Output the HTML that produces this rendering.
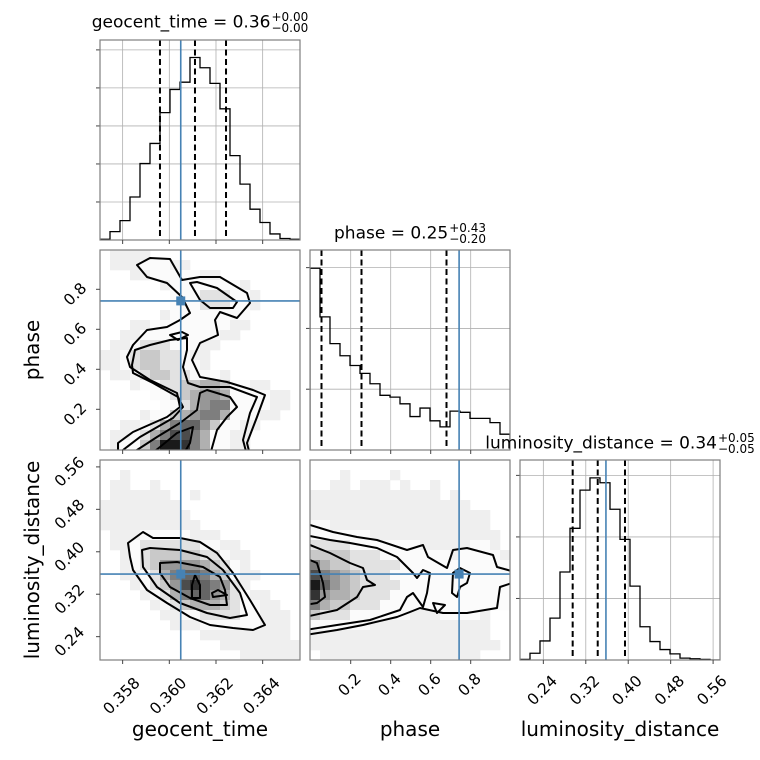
<!DOCTYPE html>
<html><head><meta charset="utf-8">
<style>
html,body{margin:0;padding:0;background:#fff;}
#wrap{position:relative;width:760px;height:760px;overflow:hidden;font-family:"DejaVu Sans","Liberation Sans",sans-serif;}
svg{position:absolute;left:0;top:0;}
.title{position:absolute;font-size:17px;white-space:nowrap;color:#000;transform:translateX(-50%);}
.ss{display:inline-block;vertical-align:-4px;font-size:12px;line-height:10.5px;margin-left:1px;}
.ss span{display:block;}
</style></head>
<body>
<div id="wrap">
<svg id="chart" width="760" height="760"></svg>
<div class="title" style="left:200px;top:12px;">geocent_time = 0.36<span class="ss"><span>+0.00</span><span>−0.00</span></span></div>
<div class="title" style="left:410px;top:223px;">phase = 0.25<span class="ss"><span>+0.43</span><span>−0.20</span></span></div>
<div class="title" style="left:620px;top:433px;">luminosity_distance = 0.34<span class="ss"><span>+0.05</span><span>−0.05</span></span></div>
</div>
<script>
// ---------- data ----------
const geoRange = [0.35703, 0.36560];
const phaseRange = [-0.0035, 0.9965];
const lumRange = [0.196, 0.573];
const geoCounts = [2,22,51,113,201,254,335,396,415,480,453,412,345,222,147,81,46,16,4,2];
const phaseCounts = [299,219,175,155,139,126,109,90,87,76,55,69,48,38,64,62,52,52,45,26];
const lumCounts = [1,11,31,68,143,214,276,296,288,245,196,120,54,30,17,10,3,2,1,0];
const geoHistMax = 526, phaseHistMax = 329, lumHistMax = 325;
const geoHistTicks = [100,200,300,400,500];
const phaseHistTicks = [100,200,300];
const lumHistTicks = [100,200,300];
const geoTicks = [0.358,0.360,0.362,0.364];
const geoTickLabels = ["0.358","0.360","0.362","0.364"];
const phaseTicks = [0.2,0.4,0.6,0.8];
const phaseTickLabels = ["0.2","0.4","0.6","0.8"];
const lumTicks = [0.24,0.32,0.40,0.48,0.56];
const lumTickLabels = ["0.24","0.32","0.40","0.48","0.56"];
const geoQuantiles = [0.35960,0.36110,0.36243];
const phaseQuantiles = [0.054,0.254,0.679];
const lumQuantiles = [0.2953,0.3425,0.3939];
const geoTruth = 0.36049, phaseTruth = 0.742, lumTruth = 0.358;
// 2D density grids (20x20 bins, top row = highest y value). '.' none, 'c' scatter, digits = density level
const gridGeoPhase = [
".cccc...............",
".ccc000cc...........",
"...cc00000cc........",
"......c0000000c.....",
".......00011100c....",
".......00011100c....",
"......c00000000.....",
"...cc00000000cc.....",
"..cc00000000cc......",
".cc0111000cc........",
"cc0122110cc.........",
"cc01221100c.........",
".cc012211000c.......",
"...c00112233200cc...",
".....001234430000cc.",
"......00134550000cc.",
"....c00234553000cc..",
"..cc0135664200cc....",
".cc0135775300cc.....",
".c00259985300cc....."];
const gridGeoLum = [
"....................",
"..c.................",
".cc..c..............",
".cccccc..c..........",
"cccccccc............",
"ccccccccc...........",
"cccccccccc..........",
".ccc00000ccc........",
".cc011111100cc......",
"..c0122222110cc.....",
"..c01244443210c.....",
"..cc0135665320cc....",
"...c0124786541c.....",
"....c0135664310cc...",
".....c0123332100cc..",
"......cc00111100ccc.",
".......ccc000000ccc.",
"..........ccccccccc.",
"............cccccccc",
"..............cccccc"];
const gridPhaseLum = [
"....................",
"...c....c...........",
"..cc.ccc.c..c.......",
"ccccccccccccc.c.....",
"cccccccccccccccc....",
"cccccccccccccccccc..",
"00cccccccccccccccc..",
"000000ccccccccccccc.",
"11110000000ccccc00c.",
"22221110000000c0000c",
"53221111100000000000",
"75432111000000000000",
"96432111100000000000",
"84332111000000000000",
"53221110000000000000",
"2111000000ccc0000c..",
"000000cccccccccccc..",
"cccccccccccccccccc..",
"ccccccccccccccccccc.",
".cccccccccccccccc..."];
// contours in bin units (x bin, y bin from top)
const contoursGeoPhase = [
[[3.7,1.5],[5,0.8],[7,0.9],[8.2,3],[10,2.7],[12,2.7],[14.7,4.3],[15,5.3],[13.7,6.8],[12,6.2],[11.5,7],[11.8,8.5],[10,9.3],[9.2,11],[10,12.7],[12.7,13.2],[15.3,14],[16.5,14.5],[15.7,16.7],[14.7,19.3],[15,20.5],[1.8,20.5],[1.8,19.3],[3.3,18.2],[6.7,16.7],[8,15.7],[7.7,14.3],[5,13],[3,11.7],[2.7,10.7],[3.3,9.5],[4.7,8],[6.7,7.7],[8,7],[9,6.3],[8.2,4.7],[6.7,3.3],[4.7,2.7]],
[[9,3.3],[9.7,3.2],[11.7,3.8],[13.7,5.2],[13.3,5.8],[11,5.8],[10,5]],
[[7,8.5],[8.2,8.2],[8.8,8.5],[7.8,9]],
[[3.2,11.5],[3.5,10],[5,9.5],[7,9],[8.7,8.8],[8.7,10],[8.3,11.7],[8.8,13.3],[10,13.7],[13,13.7],[15.7,14.7],[15,16.3],[14.3,19],[14.7,20.5],[2.3,20.5],[2.3,20],[4,18.7],[7.3,16.8],[8.3,15.7],[7.8,14.7],[5.3,13.3],[3.3,12.3]],
[[10,14.3],[10.7,14],[13,14.7],[13.7,15.7],[12.7,16.7],[11.7,18],[11,20.5],[3.7,20.5],[3.7,20],[5.7,18.7],[8,17.3],[9.7,16]],
[[5,20.5],[6,19.7],[7.7,18.3],[9.3,17.7],[9,19.3],[8.3,20.5]]];
const contoursGeoLum = [
[[2.8,8.3],[4.3,7.2],[5.3,7.8],[8,7.8],[10,8.2],[11.7,9.3],[13.3,11.3],[15,14],[16.5,16.5],[15.3,17],[13.3,16.8],[11,16.5],[9,15.7],[6.7,14.3],[4.7,13],[3.3,11],[3,9.7]],
[[4.2,9],[5,8.8],[8,9],[10.7,9.7],[12.3,11],[14,13.3],[14.7,15.5],[13,15.8],[10.7,15.3],[8,14.3],[5.7,12.7],[4.3,10.7]],
[[6,10.3],[7.7,10.2],[10.3,10.7],[12,11.7],[12.5,13],[12.7,14.5],[11,14.5],[9,13.8],[7,12.7],[6,11.3]],
[[9.2,12.5],[9.5,11.5],[10,12.5],[10,13.8],[9.2,13.8]],
[[11.2,13.3],[11.8,13],[12.7,13.5],[11.3,13.7]]];
const contoursPhaseLum = [
[[-0.5,6.5],[0,6.5],[2.3,7.2],[4.7,7.7],[6.7,8],[9.7,9],[11.3,8.5],[11.8,9.7],[13.7,10.8],[14.3,9],[15.7,8.8],[18.3,9.5],[18.7,10.7],[20.5,11.2],[20.5,12.2],[19,12.7],[18.7,14.8],[15.7,15.3],[13.3,15.3],[11,14.8],[10,15.2],[8.7,15.7],[5.3,16.5],[2.7,17],[-0.5,17.5]],
[[-0.5,7.5],[2,8],[4,8.3],[6.7,8.8],[8.7,9.7],[10.3,11.3],[10.7,11.8],[11.3,11],[12,11.3],[11.7,13.3],[11.3,14.7],[10.3,13.3],[9.7,13.7],[9,15],[6,16],[2.7,16.5],[-0.5,17]],
[[-0.5,8.3],[2,9.3],[4,10.3],[5.3,10.8],[5.7,12],[6.5,12.5],[5.3,12.7],[4.7,13.7],[2.7,15],[-0.5,15.7]],
[[-0.5,9.8],[0.7,10.3],[1.3,12.3],[1.5,13.7],[0.7,14.3],[-0.5,14.5]],
[[14.3,11.3],[15,10.8],[16,11.3],[15.7,12.3],[15,12.7],[14.7,13.7],[14.2,13.3]],
[[12.3,14.3],[13.5,14.5],[12.7,15.3]]];

// ---------- drawing ----------
const NS = "http://www.w3.org/2000/svg";
const svg = document.getElementById("chart");
const P = 200, X0 = [100,310,520], Y0 = [40,250,460];
const BLUE = "#4682b4";
function mk(tag, attrs, parent){ const e=document.createElementNS(NS,tag); for(const k in attrs) e.setAttribute(k,attrs[k]); (parent||svg).appendChild(e); return e; }
function scale(range, p0, p1){ return v => p0 + (v-range[0])/(range[1]-range[0])*(p1-p0); }
const ranges = [geoRange, phaseRange, lumRange];
const xS = c => scale(ranges[c], X0[c], X0[c]+P);
const yS = r => scale(ranges[r], Y0[r]+P, Y0[r]);
const defs = mk("defs",{});
let clipId = 0;
function clip(x,y){ const id="clip"+(clipId++); const cp=mk("clipPath",{id:id},defs); mk("rect",{x:x,y:y,width:P,height:P},cp); return id; }
function frame(x,y,name){
  const f = mk("rect",{x:x,y:y,width:P,height:P,fill:"none",stroke:"#7f7f7f","stroke-width":1.2});
  
  
}
function histPanel(c, counts, hmax, hticks, quants, truth, name){
  const x0=X0[c], y0=Y0[c];
  const g = mk("g",{"clip-path":"url(#"+clip(x0,y0)+")"});
  
  
  const xs = xS(c), ys = v => y0+P - v/hmax*P;
  const ticks = [geoTicks,phaseTicks,lumTicks][c];
  ticks.forEach(t=>{ mk("line",{x1:xs(t),x2:xs(t),y1:y0,y2:y0+P,stroke:"#b0b0b0","stroke-width":0.8},g); });
  hticks.forEach(t=>{ mk("line",{x1:x0,x2:x0+P,y1:ys(t),y2:ys(t),stroke:"#b0b0b0","stroke-width":0.8},g);
    mk("line",{x1:x0,x2:x0-4,y1:ys(t),y2:ys(t),stroke:"#444","stroke-width":1}); });
  const rng = ranges[c], n = counts.length, bw=(rng[1]-rng[0])/n;
  let d = "";
  counts.forEach((v,i)=>{ const xa=xs(rng[0]+i*bw), xb=xs(rng[0]+(i+1)*bw), y=ys(v);
    d += (i===0?"M"+xa+","+(y0+P+1)+"L"+xa+","+y:"L"+xa+","+y) + "L"+xb+","+y; });
  d += "L"+xs(rng[1])+","+(y0+P+1);
  const h = mk("path",{d:d,fill:"none",stroke:"#000","stroke-width":1.3},g);
  
  
  quants.forEach(q=>{ const l=mk("line",{x1:xs(q),x2:xs(q),y1:y0,y2:y0+P,stroke:"#000","stroke-width":2,"stroke-dasharray":"6,3.5"},g);
    
     });
  const tl = mk("line",{x1:xs(truth),x2:xs(truth),y1:y0,y2:y0+P,stroke:BLUE,"stroke-width":1.6},g);
  
  
  frame(x0,y0,name+"-frame");
}
function shade(ch){
  if(ch==='.') return null;
  if(ch==='c') return "#efefef";
  const L = +ch; const v = Math.round(251 - L*25); return "rgb("+v+","+v+","+v+")";
}
function pairPanel(c, r, grid, contours, tx, ty, name){
  const x0=X0[c], y0=Y0[r];
  const g = mk("g",{"clip-path":"url(#"+clip(x0,y0)+")"});
  
  
  const xs = xS(c), ys = yS(r);
  const rx = ranges[c], ry = ranges[r];
  const bx = b => xs(rx[0] + b/20*(rx[1]-rx[0]));
  const by = b => ys(ry[1] - b/20*(ry[1]-ry[0]));
  grid.forEach((row,i)=>{ for(let j=0;j<row.length;j++){ const col=shade(row[j]); if(!col) continue;
    const cell = mk("rect",{x:bx(j),y:by(i),width:bx(j+1)-bx(j)+0.3,height:by(i+1)-by(i)+0.3,fill:col},g);
    
     } });
  contours.forEach(pts=>{ const p = mk("polygon",{points:pts.map(q=>bx(q[0])+","+by(q[1])).join(" "),fill:"none",stroke:"#000","stroke-width":2,"stroke-linejoin":"round"},g);
    
     });
  const vl = mk("line",{x1:xs(tx),x2:xs(tx),y1:y0,y2:y0+P,stroke:BLUE,"stroke-width":1.6},g);
  
  
  const hl = mk("line",{x1:x0,x2:x0+P,y1:ys(ty),y2:ys(ty),stroke:BLUE,"stroke-width":1.6},g);
  
  
  const m = mk("rect",{x:xs(tx)-4.5,y:ys(ty)-4.5,width:9,height:9,fill:BLUE},g);
  
  
  frame(x0,y0,name+"-frame");
}
function xTicks(c, r, ticks, labels){
  const xs = xS(c), yb = Y0[r]+P;
  ticks.forEach((t,i)=>{ const x=xs(t);
    mk("line",{x1:x,x2:x,y1:yb,y2:yb+4,stroke:"#444","stroke-width":1});
    if(labels){ const cx=x-1, cy=yb+8+labels[i].length*5.6;
      const tx = mk("text",{x:cx,y:cy,"text-anchor":"middle","dominant-baseline":"central","font-size":15.5,transform:"rotate(-45 "+cx+" "+cy+")"});
      tx.textContent = labels[i];
      
       } });
}
function yTicks(c, r, ticks, labels){
  const ys = yS(r), xl = X0[c];
  ticks.forEach((t,i)=>{ const y=ys(t);
    mk("line",{x1:xl,x2:xl-4,y1:y,y2:y,stroke:"#444","stroke-width":1});
    const cx = xl-8-labels[i].length*5.6, cy = y+5;
    const tx = mk("text",{x:cx,y:cy,"text-anchor":"middle","dominant-baseline":"central","font-size":15.5,transform:"rotate(-45 "+cx+" "+cy+")"});
    tx.textContent = labels[i];
    
     });
}

histPanel(0, geoCounts, geoHistMax, geoHistTicks, geoQuantiles, geoTruth, "hist-geocent-time");
histPanel(1, phaseCounts, phaseHistMax, phaseHistTicks, phaseQuantiles, phaseTruth, "hist-phase");
histPanel(2, lumCounts, lumHistMax, lumHistTicks, lumQuantiles, lumTruth, "hist-luminosity-distance");
pairPanel(0,1, gridGeoPhase, contoursGeoPhase, geoTruth, phaseTruth, "panel-geocent-vs-phase");
pairPanel(0,2, gridGeoLum, contoursGeoLum, geoTruth, lumTruth, "panel-geocent-vs-luminosity");
pairPanel(1,2, gridPhaseLum, contoursPhaseLum, phaseTruth, lumTruth, "panel-phase-vs-luminosity");

xTicks(0,0, geoTicks, null);
xTicks(0,1, geoTicks, null);
xTicks(1,1, phaseTicks, null);
xTicks(0,2, geoTicks, geoTickLabels);
xTicks(1,2, phaseTicks, phaseTickLabels);
xTicks(2,2, lumTicks, lumTickLabels);
yTicks(0,1, phaseTicks, phaseTickLabels);
yTicks(0,2, lumTicks, lumTickLabels);

function label(txt, x, y, rot, name){
  const t = mk("text",{x:x,y:y,"text-anchor":"middle","dominant-baseline":"central","font-size":20});
  if(rot) t.setAttribute("transform","rotate(-90 "+x+" "+y+")");
  t.textContent = txt;
  
  
}
label("geocent_time", 200, 729, false, "x-axis-title-geocent-time");
label("phase", 410, 729, false, "x-axis-title-phase");
label("luminosity_distance", 620, 729, false, "x-axis-title-luminosity-distance");
label("phase", 32, 350, true, "y-axis-title-phase");
label("luminosity_distance", 32, 560, true, "y-axis-title-luminosity-distance");
</script>
</body></html>
